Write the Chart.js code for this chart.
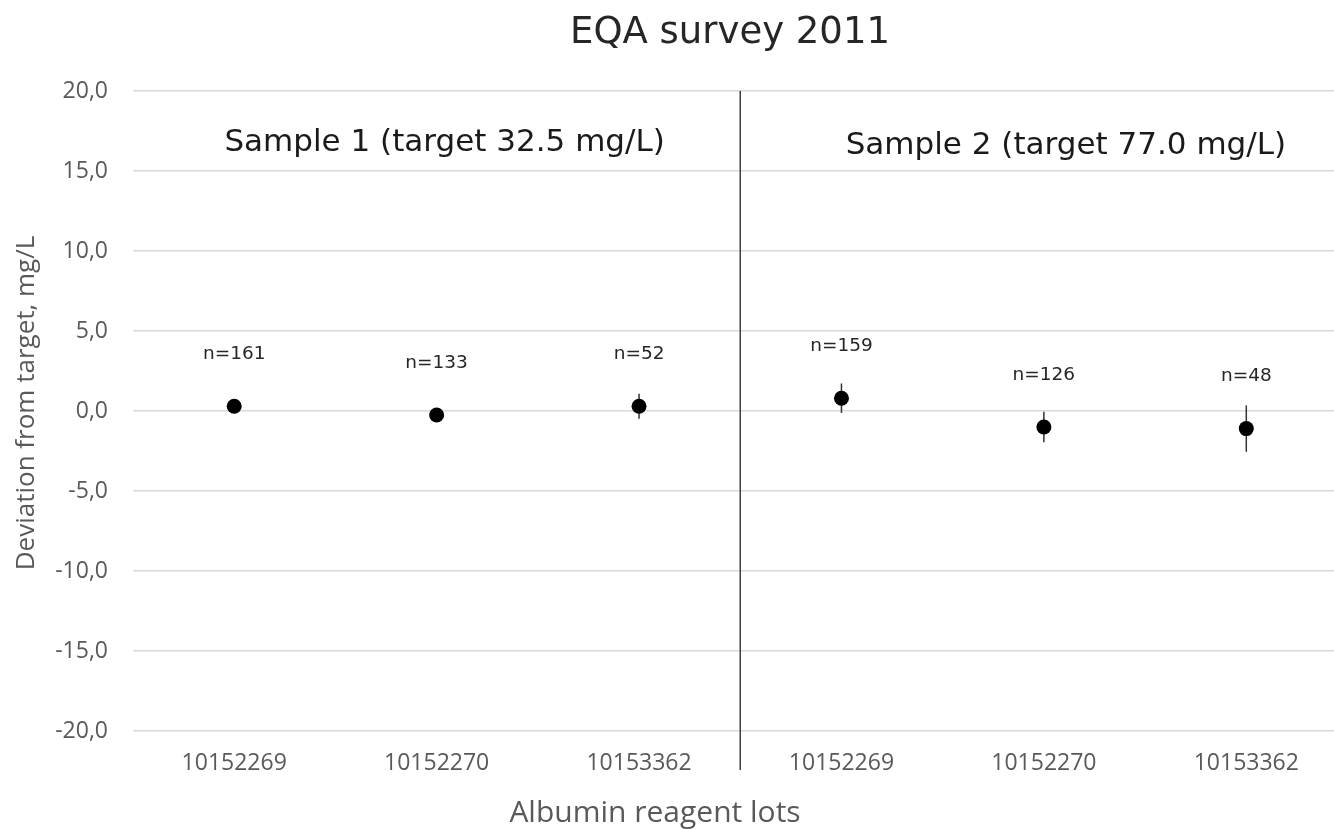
<!DOCTYPE html>
<html lang="en">
<head>
<meta charset="UTF-8">
<title>EQA survey 2011</title>
<script src="https://cdn.jsdelivr.net/npm/chart.js"></script>
<style>
  html, body { margin: 0; padding: 0; background: #fff; overflow: hidden; }
  #wrap { width: 1355px; height: 829px; }
</style>
</head>
<body>
<div id="wrap"><canvas id="eqa" width="1355" height="829"></canvas></div>
<script>
// data
const lots = ['10152269', '10152270', '10153362', '10152269', '10152270', '10153362'];
const meanDeviation = [0.3, -0.25, 0.3, 0.8, -1.0, -1.1];
const errorBar = [0.3, 0.3, 0.78, 0.92, 0.95, 1.45];
const nLabels = ['n=161', 'n=133', 'n=52', 'n=159', 'n=126', 'n=48'];
const sampleLabels = ['Sample 1 (target 32.5 mg/L)', 'Sample 2 (target 77.0 mg/L)'];
const yTickValues = [-20, -15, -10, -5, 0, 5, 10, 15, 20];

const wide = '"DejaVu Sans", sans-serif';
const narrow = '"Open Sans", sans-serif';

// error bars, divider line and all the free text
const overlay = {
  id: 'overlay',
  beforeDatasetsDraw(chart) {
    const ctx = chart.ctx;
    const x = chart.scales.x, y = chart.scales.y;
    ctx.save();
    ctx.strokeStyle = '#333';
    ctx.lineWidth = 1.5;
    meanDeviation.forEach((v, i) => {
      const px = x.getPixelForValue(i);
      ctx.beginPath();
      ctx.moveTo(px, y.getPixelForValue(v + errorBar[i]));
      ctx.lineTo(px, y.getPixelForValue(v - errorBar[i]));
      ctx.stroke();
    });
    ctx.restore();
  },
  afterDatasetsDraw(chart) {
    const ctx = chart.ctx;
    const x = chart.scales.x, y = chart.scales.y;
    const area = chart.chartArea;
    ctx.save();

    // divider between the two samples
    const dx = (x.getPixelForValue(2) + x.getPixelForValue(3)) / 2;
    ctx.strokeStyle = '#404040';
    ctx.lineWidth = 1.5;
    ctx.beginPath();
    ctx.moveTo(dx, area.top);
    ctx.lineTo(dx, area.bottom + 39);
    ctx.stroke();

    // n= labels above the points
    ctx.fillStyle = '#262626';
    ctx.font = '18.5px ' + wide;
    ctx.textAlign = 'center';
    ctx.textBaseline = 'middle';
    meanDeviation.forEach((v, i) => {
      ctx.fillText(nLabels[i], x.getPixelForValue(i), y.getPixelForValue(v) - 52);
    });

    // sample headings
    ctx.fillStyle = '#1a1a1a';
    ctx.font = '31px ' + wide;
    const c1 = (x.getPixelForValue(0) + x.getPixelForValue(2)) / 2 + 8;
    const c2 = (x.getPixelForValue(3) + x.getPixelForValue(5)) / 2 + 22;
    ctx.fillText(sampleLabels[0], c1, area.top + 52);
    ctx.fillText(sampleLabels[1], c2, area.top + 55);
    ctx.restore();
  },
  afterDraw(chart) {
    const ctx = chart.ctx;
    ctx.save();
    ctx.textAlign = 'center';
    ctx.textBaseline = 'middle';

    ctx.fillStyle = '#262626';
    ctx.font = '37px ' + wide;
    ctx.fillText('EQA survey 2011', 730, 33);

    ctx.fillStyle = '#595959';
    ctx.font = '30px ' + narrow;
    ctx.fillText('Albumin reagent lots', 655, 813);

    ctx.translate(27, 403);
    ctx.rotate(-Math.PI / 2);
    ctx.font = '26px ' + narrow;
    ctx.fillText('Deviation from target, mg/L', 0, 0);
    ctx.restore();
  }
};

new Chart(document.getElementById('eqa'), {
  type: 'line',
  data: {
    labels: lots,
    datasets: [{
      data: meanDeviation,
      showLine: false,
      pointRadius: 7.5,
      pointHoverRadius: 7.5,
      pointBackgroundColor: '#000',
      pointBorderColor: '#000',
      pointBorderWidth: 0
    }]
  },
  options: {
    responsive: false,
    animation: false,
    layout: { padding: { top: 91, right: 1, left: 0, bottom: 0 } },
    plugins: {
      legend: { display: false },
      tooltip: { enabled: false },
      title: { display: false }
    },
    scales: {
      x: {
        offset: true,
        grid: { display: false, drawTicks: false },
        border: { display: false },
        ticks: {
          padding: 19,
          color: '#595959',
          font: { family: narrow, size: 23 },
          maxRotation: 0,
          autoSkip: false
        },
        afterFit(scale) { scale.height = 98; }
      },
      y: {
        min: -20,
        max: 20,
        grid: { color: '#d9d9d9', lineWidth: 1.5, drawTicks: false },
        border: { display: false },
        afterBuildTicks(scale) { scale.ticks = yTickValues.map(v => ({ value: v })); },
        ticks: {
          padding: 25,
          color: '#595959',
          font: { family: narrow, size: 23 },
          callback: v => v.toFixed(1).replace('.', ',')
        },
        afterFit(scale) { scale.width = 133; }
      }
    }
  },
  plugins: [overlay]
});
</script>
</body>
</html>
